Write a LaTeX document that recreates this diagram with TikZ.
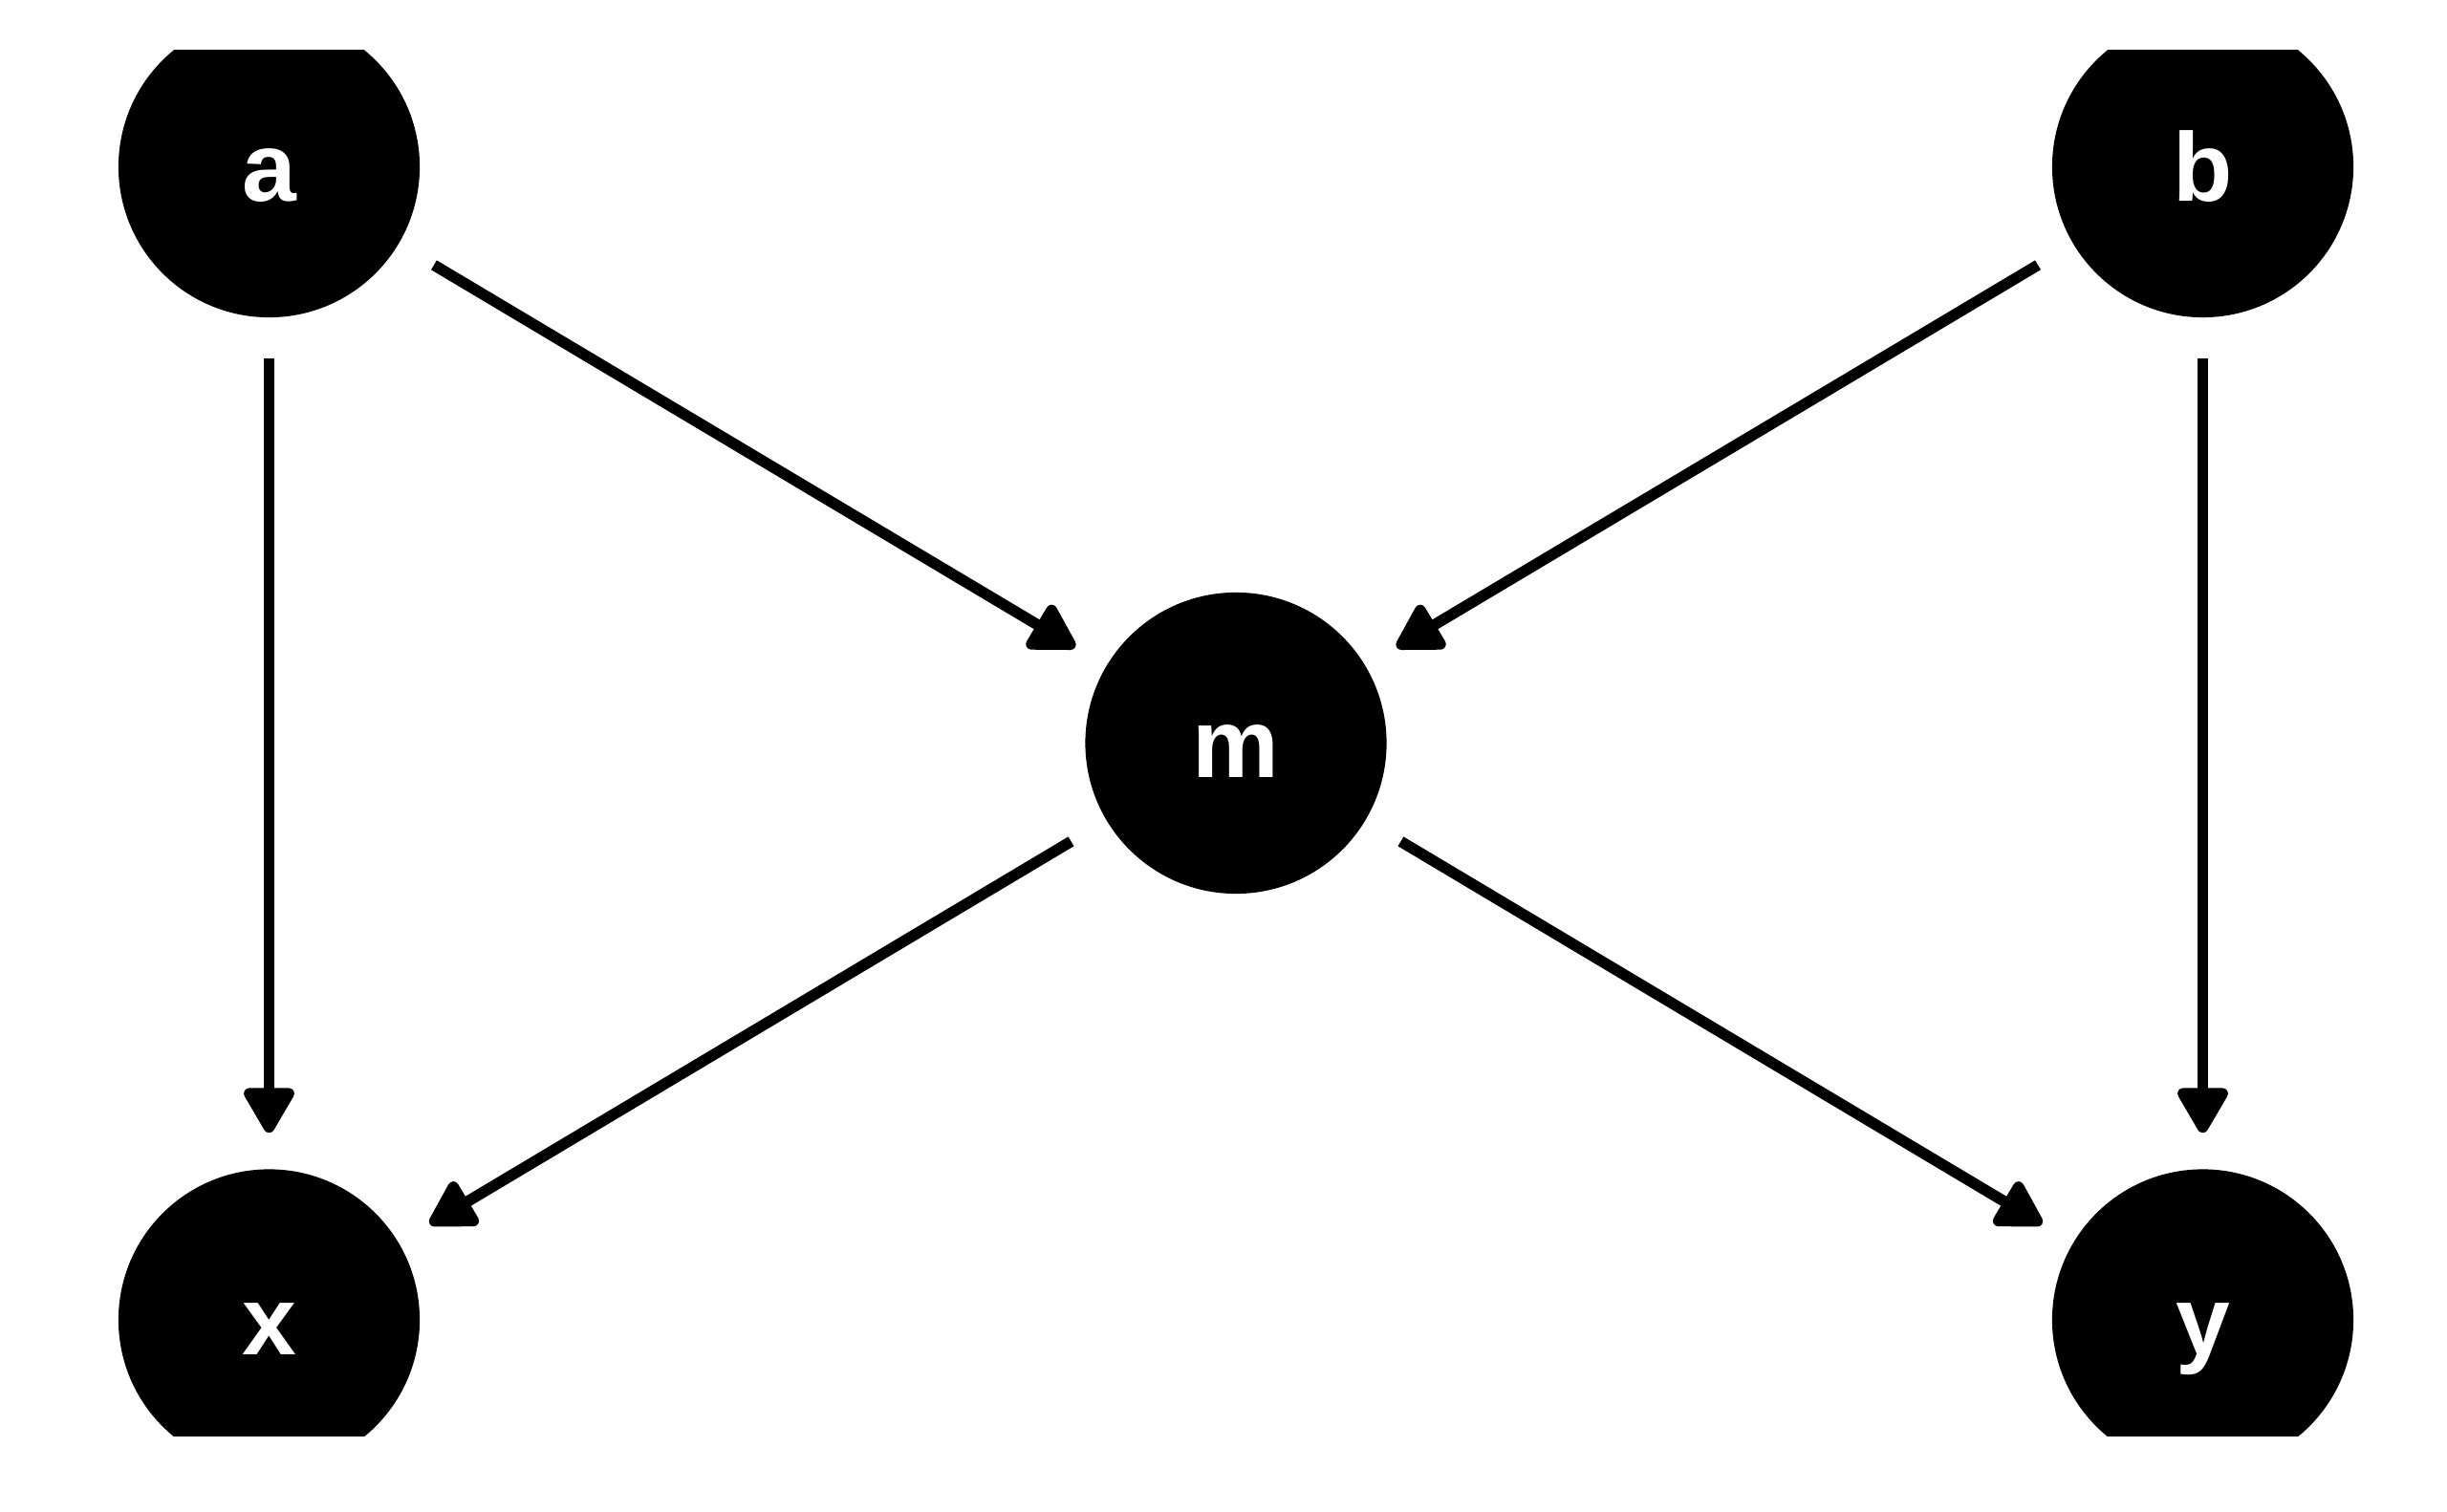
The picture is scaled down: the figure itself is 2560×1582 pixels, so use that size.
\documentclass[tikz,border=0pt]{standalone}
\usepackage{fontspec}
\newfontfamily\labfont{Liberation Sans Bold}
\usetikzlibrary{arrows.meta}
\tikzset{
  var/.style={circle, fill=black, draw=none, minimum size=315.2pt, inner sep=0pt,
    text=white, font=\labfont\fontsize{102pt}{110pt}\selectfont,
    text height=73pt, text depth=0pt},
  arr/.style={line width=11.5pt, -{Triangle[length=53pt, width=58pt, round]},
    shorten <=43pt, shorten >=38pt}
}
\begin{document}
\begin{tikzpicture}[x=1pt,y=1pt]
\useasboundingbox (0,0) rectangle (2560,1582);
\begin{scope}
\clip (0,79.7) rectangle (2560,1529.3);
\node[var] (a) at (281.5,1407.5) {a};
\node[var] (b) at (2304.5,1407.5) {b};
\node[var] (m) at (1293,804.5) {m};
\node[var] (x) at (281.5,201) {x};
\node[var] (y) at (2304.5,201) {y};
\draw[arr] (a) -- (m);
\draw[arr] (b) -- (m);
\draw[arr] (a) -- (x);
\draw[arr] (b) -- (y);
\draw[arr] (m) -- (x);
\draw[arr] (m) -- (y);
\end{scope}
\end{tikzpicture}
\end{document}
